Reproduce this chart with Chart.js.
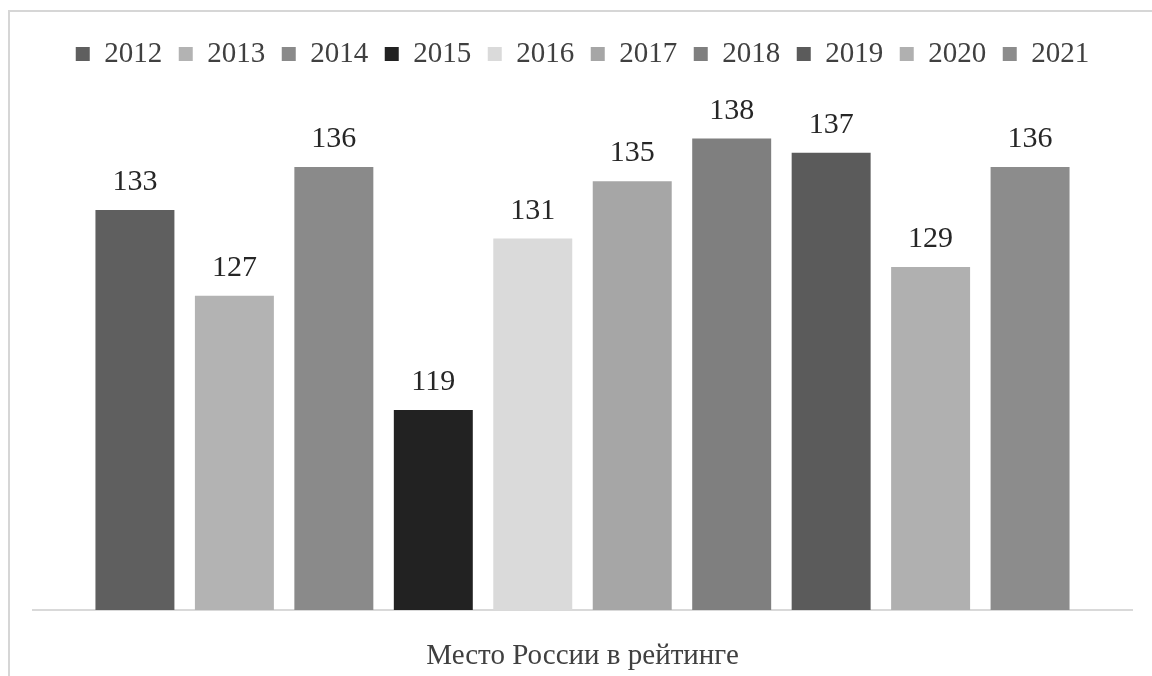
<!DOCTYPE html>
<html>
<head>
<meta charset="utf-8">
<script src="https://cdn.jsdelivr.net/npm/chart.js@4/dist/chart.umd.min.js"></script>
<style>
  body { margin: 0; background: #fff; }
  #wrap { position: relative; width: 1152px; height: 676px; }
  #frame { position: absolute; left: 8px; top: 10px; right: -4px; bottom: -4px;
           border-left: 2px solid #d6d6d6; border-top: 2px solid #d6d6d6; pointer-events: none; }
</style>
</head>
<body>
<div id="wrap">
  <canvas id="chart" width="1152" height="676"></canvas>
  <div id="frame"></div>
</div>
<script>
// years shown in the legend, one bar each
var years = ['2012', '2013', '2014', '2015', '2016', '2017', '2018', '2019', '2020', '2021'];
var places = [133, 127, 136, 119, 131, 135, 138, 137, 129, 136];
var category = ['Место России в рейтинге'];
var barColors = ['#5f5f5f', '#b3b3b3', '#8a8a8a', '#222222', '#dadada',
                 '#a6a6a6', '#7f7f7f', '#5b5b5b', '#b0b0b0', '#8c8c8c'];

var serif = "'Times New Roman', 'Liberation Serif', 'DejaVu Serif', serif";

var datasets = years.map(function(y, i) {
  return {
    label: y,
    data: [places[i]],
    backgroundColor: barColors[i],
    borderWidth: 0,
    barPercentage: 0.794,
    categoryPercentage: 0.905
  };
});

// draw value above each bar
var valueLabels = {
  id: 'valueLabels',
  afterDatasetsDraw: function(chart) {
    var ctx = chart.ctx;
    ctx.save();
    ctx.font = '30px ' + serif;
    ctx.fillStyle = '#262626';
    ctx.textAlign = 'center';
    ctx.textBaseline = 'alphabetic';
    chart.data.datasets.forEach(function(ds, i) {
      var bar = chart.getDatasetMeta(i).data[0];
      ctx.fillText(String(ds.data[0]), bar.x, bar.y - 20);
    });
    ctx.restore();
  }
};

new Chart(document.getElementById('chart'), {
  type: 'bar',
  data: { labels: category, datasets: datasets },
  plugins: [valueLabels],
  options: {
    responsive: false,
    animation: false,
    layout: { padding: { top: 23, left: 33, right: 20, bottom: 0 } },
    plugins: {
      tooltip: { enabled: false },
      legend: {
        position: 'top',
        labels: {
          boxWidth: 14,
          boxHeight: 14,
          padding: 16.5,
          color: '#404040',
          font: { family: serif, size: 29 }
        }
      }
    },
    scales: {
      y: { display: false, min: 105, max: 142.2 },
      x: {
        grid: { display: false },
        border: { color: '#d9d9d9', width: 2 },
        afterFit: function(scale) { scale.height = 66; },
        ticks: { color: '#404040', padding: 21, font: { family: serif, size: 29 } }
      }
    }
  }
});
</script>
</body>
</html>
